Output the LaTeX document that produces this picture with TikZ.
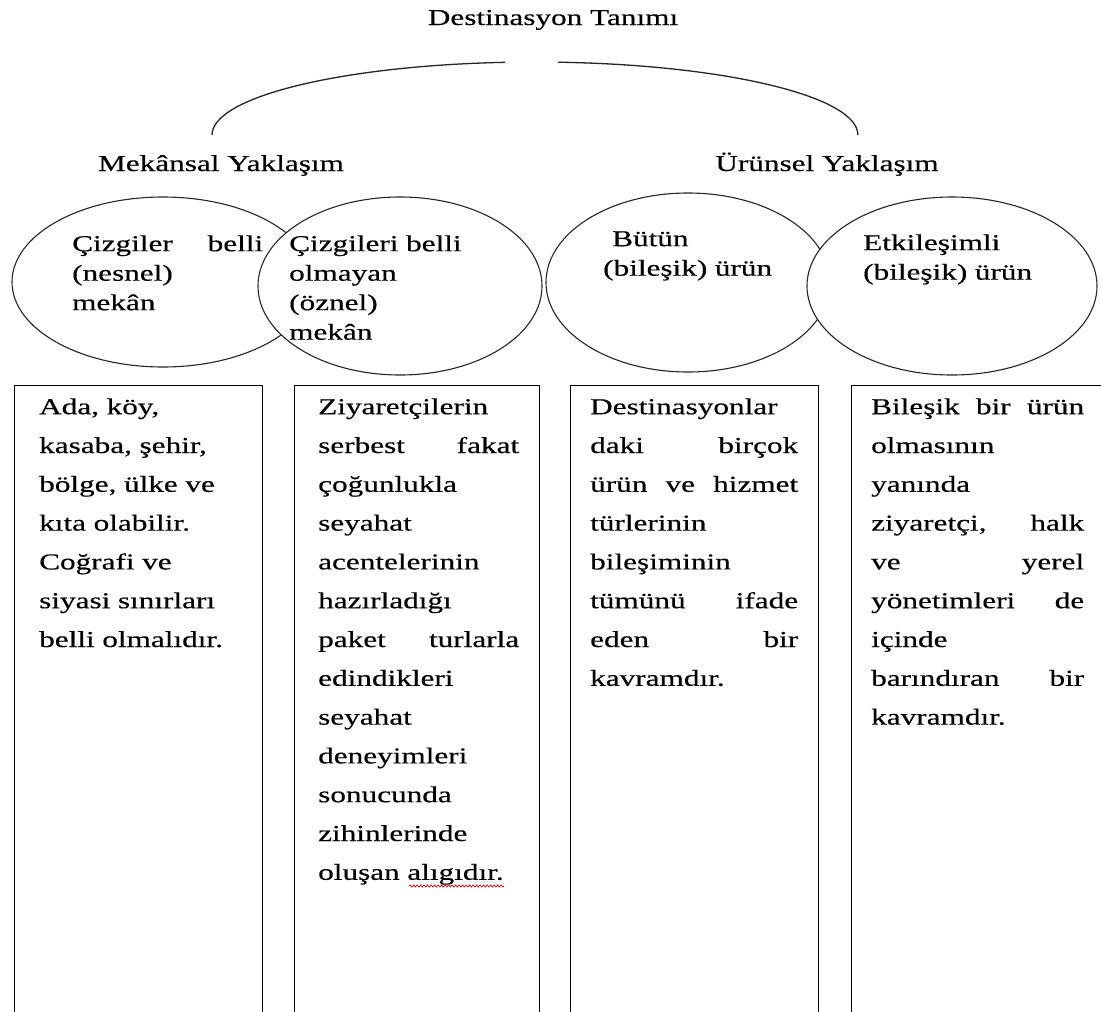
\documentclass[tikz,border=0pt]{standalone}
\usepackage{fontspec}
\setmainfont{Liberation Serif}[FakeStretch=1.37,FakeBold=0.4]
\usetikzlibrary{shapes.geometric,decorations.pathmorphing}
\newcommand\fst{\rule{0pt}{20pt}}
\begin{document}
\begin{tikzpicture}[x=1pt,y=-1pt,
  ell/.style={ellipse, draw=black!85, line width=1.1pt, fill=white, inner sep=0pt},
  boxx/.style={draw=black, line width=1.3pt, inner sep=0pt, anchor=north west, minimum height=700pt},
  lbl/.style={inner sep=0pt, anchor=base, font=\fontsize{22.8}{27}\selectfont},
  etxt/.style={inner sep=0pt, anchor=north west, align=left, font=\fontsize{22.8}{29.5}\selectfont},
  btxt/.style={inner sep=0pt, anchor=north west, align=left, font=\fontsize{22.8}{38.8}\selectfont},
  arcline/.style={draw=black!85, line width=1.3pt},
  spell/.style={draw=red!85!black, line width=0.7pt, decorate, decoration={snake, amplitude=1.1pt, segment length=3.5pt}}
]
\useasboundingbox[fill=white] (0,0) rectangle (1101,1012);

% headings
\node[lbl] (title) at (553,25) {Destinasyon Tanımı};
\node[lbl] (mek) at (221,171) {Mekânsal Yaklaşım};
\node[lbl] (uru) at (827,171) {Ürünsel Yaklaşım};

% bracket arc
\coordinate (al) at (212,135);
\coordinate (ar) at (558,62.2);
\draw[arcline] (al) arc[start angle=180, end angle=95.3, x radius=323pt, y radius=73pt] coordinate (alend);
\draw[arcline] (ar) arc[start angle=85.9, end angle=0, x radius=323pt, y radius=73pt] coordinate (arend);

% ellipses
\node[ell, minimum width=302pt, minimum height=170pt] (e1) at (163,282) {};
\node[ell, minimum width=284pt, minimum height=178pt] (e2) at (400,286) {};
\node[ell, minimum width=284pt, minimum height=179pt] (e3) at (688,282.5) {};
\node[ell, minimum width=290pt, minimum height=178pt] (e4) at (952,286) {};

\node[etxt, text width=191pt] (et1) at (72,231) {\fst Çizgiler\hfill belli\\(nesnel)\\mekân};
\node[etxt, text width=210pt] (et2) at (289,231) {\fst Çizgileri belli\\olmayan\\(öznel)\\mekân};
\node[etxt, text width=200pt] (et3) at (603,226) {\fst\hspace*{9pt}Bütün\\(bileşik) ürün};
\node[etxt, text width=200pt] (et4) at (863,230) {\fst Etkileşimli\\(bileşik) ürün};

% boxes
\node[boxx, minimum width=248pt] (b1) at (14,385) {};
\node[boxx, minimum width=245pt] (b2) at (294,385) {};
\node[boxx, minimum width=248pt] (b3) at (570,385) {};
\node[boxx, minimum width=262pt] (b4) at (851,385) {};

\node[btxt, text width=210pt] (t1) at (39,394) {\fst Ada, köy,\\kasaba, şehir,\\bölge, ülke ve\\kıta olabilir.\\Coğrafi ve\\siyasi sınırları\\belli olmalıdır.};
\node[btxt, text width=201pt] (t2) at (318,394) {\fst Ziyaretçilerin\\serbest\hfill fakat\\çoğunlukla\\seyahat\\acentelerinin\\hazırladığı\\paket\hfill turlarla\\edindikleri\\seyahat\\deneyimleri\\sonucunda\\zihinlerinde\\oluşan alıgıdır.};
\node[btxt, text width=208pt] (t3) at (590,394) {\fst Destinasyonlar\\daki\hfill birçok\\ürün\hfill ve\hfill hizmet\\türlerinin\\bileşiminin\\tümünü\hfill ifade\\eden\hfill bir\\kavramdır.};
\node[btxt, text width=213pt] (t4) at (871,394) {\fst Bileşik\hfill bir\hfill ürün\\olmasının\\yanında\\ziyaretçi,\hfill halk\\ve\hfill yerel\\yönetimleri\hfill de\\içinde\\barındıran\hfill bir\\kavramdır.};

% spell-check underline
\coordinate (sw1) at (409,886);
\coordinate (sw2) at (504,886);
\draw[spell] (sw1) -- (sw2);
\end{tikzpicture}
\end{document}
